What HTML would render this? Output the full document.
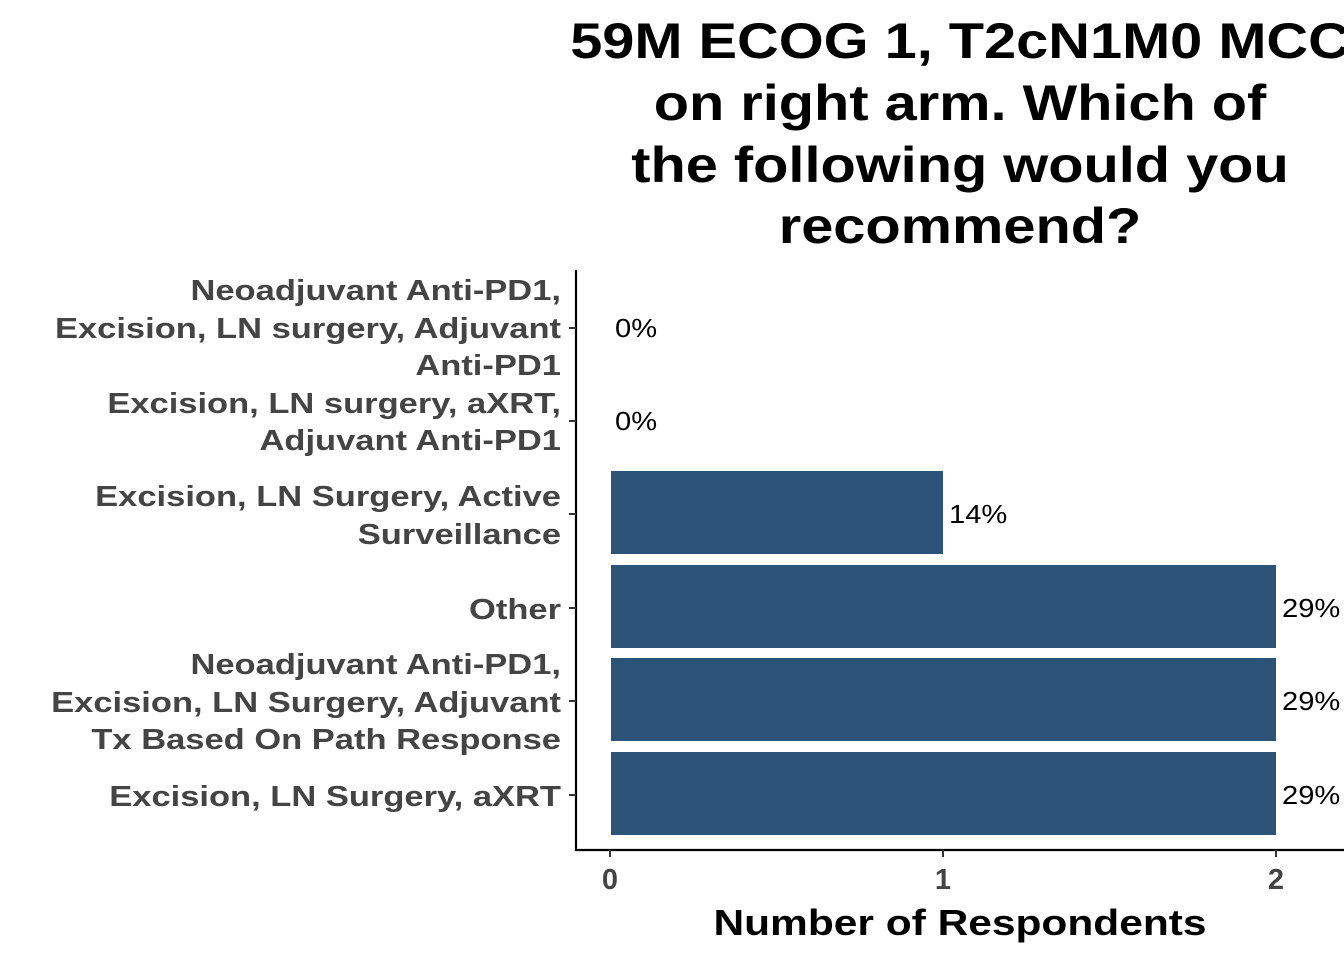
<!DOCTYPE html>
<html><head><meta charset="utf-8"><style>body{margin:0;background:#fff}</style></head>
<body>
<svg width="1344" height="960" xmlns="http://www.w3.org/2000/svg" font-family="Liberation Sans, Arial, sans-serif">
<rect width="1344" height="960" fill="#fff"/>
<g font-weight="bold" font-size="50" text-anchor="middle" fill="#000" transform="translate(960 0) scale(1.155 1)">
<text x="0" y="58">59M ECOG 1, T2cN1M0 MCC</text>
<text x="0" y="120">on right arm. Which of</text>
<text x="0" y="182">the following would you</text>
<text x="0" y="243">recommend?</text>
</g>
<g fill="#2C5378">
<rect x="611" y="471" width="332" height="83"/>
<rect x="611" y="565" width="665" height="83"/>
<rect x="611" y="658" width="665" height="83"/>
<rect x="611" y="752" width="665" height="83"/>
</g>
<g font-size="26" fill="#000">
<text transform="translate(615 337) scale(1.12 1)">0%</text>
<text transform="translate(615 430) scale(1.12 1)">0%</text>
<text transform="translate(949 523) scale(1.12 1)">14%</text>
<text transform="translate(1282 617) scale(1.12 1)">29%</text>
<text transform="translate(1282 710) scale(1.12 1)">29%</text>
<text transform="translate(1282 804) scale(1.12 1)">29%</text>
</g>
<g stroke="#000" stroke-width="2.2" fill="none">
<line x1="576" y1="270" x2="576" y2="851"/>
<line x1="575" y1="850" x2="1344" y2="850"/>
</g>
<g stroke="#333" stroke-width="2">
<line x1="569" y1="328" x2="576" y2="328"/>
<line x1="569" y1="421" x2="576" y2="421"/>
<line x1="569" y1="514" x2="576" y2="514"/>
<line x1="569" y1="608" x2="576" y2="608"/>
<line x1="569" y1="701" x2="576" y2="701"/>
<line x1="569" y1="795" x2="576" y2="795"/>
<line x1="610" y1="850" x2="610" y2="857"/>
<line x1="943" y1="850" x2="943" y2="857"/>
<line x1="1276" y1="850" x2="1276" y2="857"/>
</g>
<g font-weight="bold" font-size="29" fill="#444" text-anchor="end" transform="translate(561 0) scale(1.19 1)">
<text x="0" y="300">Neoadjuvant Anti-PD1,</text>
<text x="0" y="338">Excision, LN surgery, Adjuvant</text>
<text x="0" y="375">Anti-PD1</text>
<text x="0" y="413">Excision, LN surgery, aXRT,</text>
<text x="0" y="450">Adjuvant Anti-PD1</text>
<text x="0" y="506">Excision, LN Surgery, Active</text>
<text x="0" y="544">Surveillance</text>
<text x="0" y="619">Other</text>
<text x="0" y="674">Neoadjuvant Anti-PD1,</text>
<text x="0" y="712">Excision, LN Surgery, Adjuvant</text>
<text x="0" y="749">Tx Based On Path Response</text>
<text x="0" y="806">Excision, LN Surgery, aXRT</text>
</g>
<g font-weight="bold" font-size="29" fill="#444" text-anchor="middle">
<text x="610" y="889">0</text>
<text x="943" y="889">1</text>
<text x="1276" y="889">2</text>
</g>
<text font-weight="bold" font-size="36" text-anchor="middle" fill="#000" transform="translate(960 935) scale(1.18 1)">Number of Respondents</text>
</svg>
</body></html>
